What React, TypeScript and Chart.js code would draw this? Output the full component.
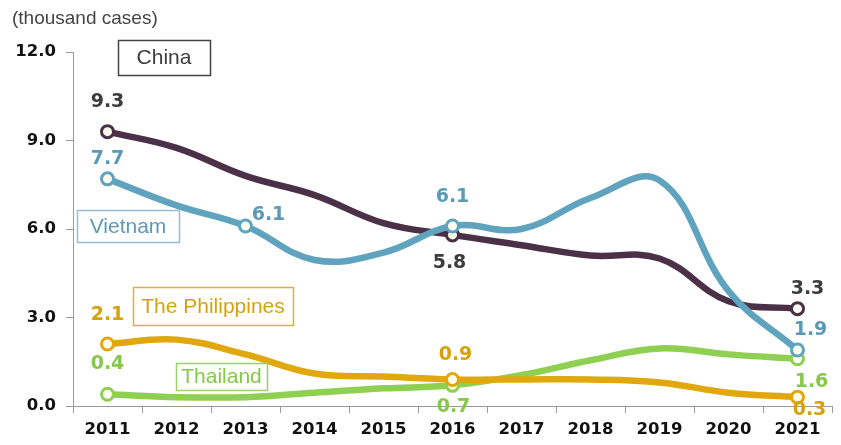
import React, { useEffect, useRef } from "react";
import { Chart, registerables } from "chart.js";

Chart.register(...registerables);

const years = ["2011", "2012", "2013", "2014", "2015", "2016", "2017", "2018", "2019", "2020", "2021"];
const china = [9.3, 8.75, 7.8, 7.15, 6.2, 5.8, 5.45, 5.1, 5.0, 3.55, 3.3];
const vietnam = [7.7, 6.8, 6.1, 4.95, 5.2, 6.1, 6.0, 7.05, 7.65, 3.9, 1.9];
const philippines = [2.1, 2.25, 1.75, 1.1, 1.0, 0.9, 0.9, 0.9, 0.8, 0.45, 0.3];
const thailand = [0.4, 0.3, 0.3, 0.45, 0.6, 0.7, 1.05, 1.55, 1.95, 1.75, 1.6];
const yTicks = [0, 3, 6, 9, 12];
const seriesNames = ["China", "Vietnam", "The Philippines", "Thailand"];

const COLORS = {
  china: "#4a3148",
  vietnam: "#5fa3bf",
  philippines: "#e0a80e",
  thailand: "#8fcf52",
};

// which points carry a marker/value label
const markedChina = [0, 5, 10];
const markedVietnam = [0, 2, 5, 10];
const markedPhilippines = [0, 5, 10];
const markedThailand = [0, 5, 10];

// label offsets relative to the point (dataset index, data index, dx, dy)
const labelPlacement: [number, number, number, number][] = [
  [0, 0, 0, -30],
  [0, 5, -3, 28],
  [0, 10, 10, -20],
  [1, 0, 0, -20],
  [1, 2, 23, -11],
  [1, 5, 0, -29],
  [1, 10, 13, -20],
  [2, 0, 0, -29],
  [2, 5, 3, -24],
  [2, 10, 12, 13],
  [3, 0, 0, -30],
  [3, 5, 1, 22],
  [3, 10, 14, 23],
];

// legend boxes (x, y, w, h) in canvas pixels
const legendBoxes: [number, number, number, number, number][] = [
  [0, 118, 40, 92, 35],
  [1, 77, 210, 102, 32],
  [2, 133, 287, 160, 38],
  [3, 176, 363, 91, 27],
];

const textColors = ["#3c3c3c", "#5b9ab6", "#d6a20c", "#86c84a"];
const borderColors = ["#444444", "#8fc0d3", "#e0b030", "#9bd16a"];

function radii(marked: number[]) {
  return years.map((_, i) => (marked.includes(i) ? 6 : 0));
}

export default function App() {
  const ref = useRef<HTMLCanvasElement>(null);
  useEffect(() => {
    document.body.style.margin = "0";
    const canvas = ref.current!;
    const annotate = {
      id: "annotate",
      afterDatasetsDraw(chart: any) {
        const ctx = chart.ctx as CanvasRenderingContext2D;
        ctx.save();
        // axis unit
        ctx.fillStyle = "#444";
        ctx.font = "19px 'Liberation Sans', Arial, sans-serif";
        ctx.textAlign = "left";
        ctx.textBaseline = "middle";
        ctx.fillText("(thousand cases)", 12, 19);
        // value labels
        ctx.font = "bold 19px 'DejaVu Sans', sans-serif";
        ctx.textAlign = "center";
        const sets = [china, vietnam, philippines, thailand];
        for (const [ds, i, dx, dy] of labelPlacement) {
          const p = chart.getDatasetMeta(ds).data[i];
          ctx.fillStyle = textColors[ds];
          ctx.fillText(sets[ds][i].toFixed(1), p.x + dx, p.y + dy);
        }
        // legend boxes
        ctx.font = "21px 'Liberation Sans', Arial, sans-serif";
        for (const [ds, x, y, w, h] of legendBoxes) {
          ctx.fillStyle = "#ffffff";
          ctx.fillRect(x, y, w, h);
          ctx.strokeStyle = borderColors[ds];
          ctx.lineWidth = 1.5;
          ctx.strokeRect(x + 0.5, y + 0.5, w, h);
          ctx.fillStyle = textColors[ds];
          ctx.fillText(seriesNames[ds], x + w / 2, y + h / 2 + 1);
        }
        ctx.restore();
      },
    };
    const mk = (label: string, data: number[], color: string, marked: number[], order: number) => ({
      label,
      data,
      borderColor: color,
      backgroundColor: color,
      borderWidth: 6.5,
      tension: 0.4,
      pointRadius: radii(marked),
      pointBorderWidth: 3,
      pointBorderColor: color,
      pointBackgroundColor: "#fffdf0",
      order,
    });
    const tickFont = { family: "'DejaVu Sans', sans-serif", size: 16.5, weight: "bold" as const };
    const chart = new Chart(canvas, {
      type: "line",
      data: {
        labels: years,
        datasets: [
          mk(seriesNames[0], china, COLORS.china, markedChina, 2),
          mk(seriesNames[1], vietnam, COLORS.vietnam, markedVietnam, 0),
          mk(seriesNames[2], philippines, COLORS.philippines, markedPhilippines, 1),
          mk(seriesNames[3], thailand, COLORS.thailand, markedThailand, 3),
        ],
      },
      options: {
        responsive: false,
        animation: false,
        layout: { padding: { top: 52, left: 0, right: 0, bottom: 0 } },
        plugins: { legend: { display: false }, tooltip: { enabled: false } },
        scales: {
          x: {
            offset: true,
            grid: { offset: true, drawOnChartArea: false, drawTicks: true, tickLength: 7, color: "#999" },
            border: { display: true, color: "#999", width: 1 },
            ticks: { color: "#111", font: tickFont, padding: 7 },
            afterFit(scale: any) {
              scale.height = 39;
            },
          },
          y: {
            min: 0,
            max: 12,
            afterBuildTicks(scale: any) {
              scale.ticks = yTicks.map((v) => ({ value: v }));
            },
            grid: { drawOnChartArea: false, drawTicks: true, tickLength: 7, color: "#999" },
            border: { display: true, color: "#999", width: 1 },
            ticks: {
              color: "#111",
              font: tickFont,
              padding: 10,
              callback: (v: any) => Number(v).toFixed(1),
            },
            afterFit(scale: any) {
              scale.width = 73;
            },
          },
        },
      },
      plugins: [annotate],
    });
    return () => chart.destroy();
  }, []);
  return <canvas ref={ref} width={841} height={445} style={{ display: "block" }} />;
}
